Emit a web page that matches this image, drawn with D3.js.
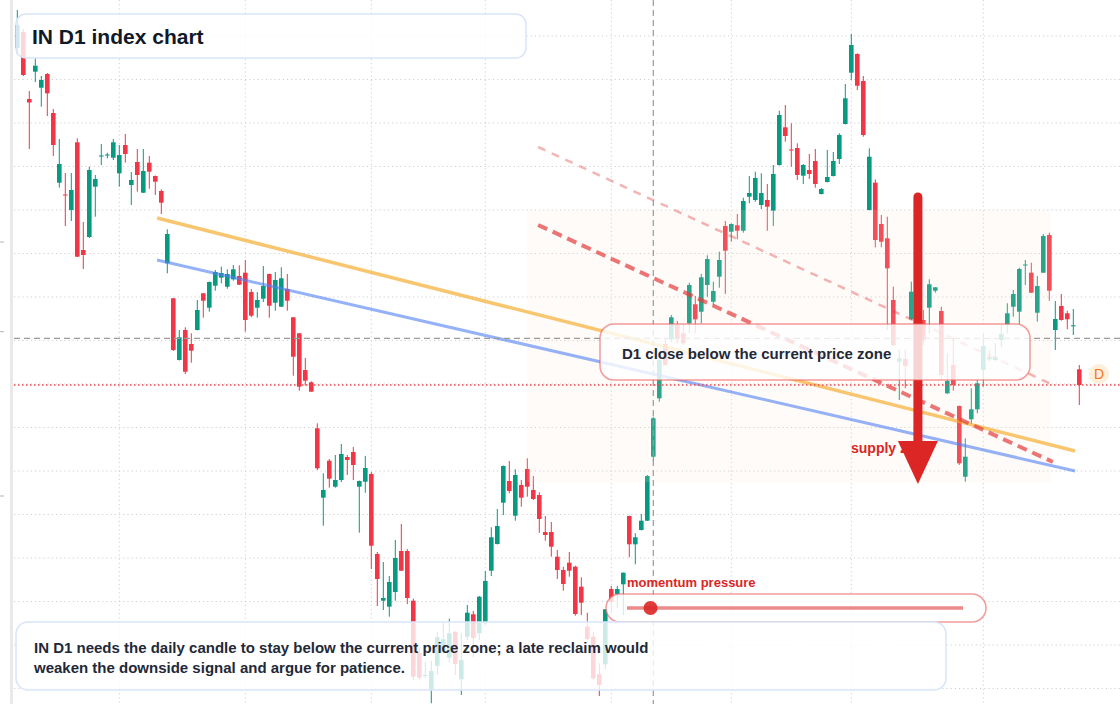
<!DOCTYPE html>
<html>
<head>
<meta charset="utf-8">
<script src="https://cdn.jsdelivr.net/npm/d3@7"></script>
<style>
  body { margin: 0; background: #fff; }
  svg { display: block; }
</style>
</head>
<body>
<script>

// daily candles, index points
const opens = [
  952, 968, 901, 928.3, 912.3, 926, 887, 817.3, 805.5, 790,
  857.7, 750, 763, 813.3, 843.5, 844.5, 842.3, 826.7, 855, 815,
  838, 807.3, 837.3, 824, 809, 736.7, 701.7, 640, 670, 656,
  670, 706.7, 692.3, 714.3, 722.3, 713.3, 720.7, 724, 727.3, 708,
  692.3, 701.3, 726, 697.3, 693.3, 711, 682.7, 666.7, 630, 617.7,
  571.7, 502.3, 539.3, 513.3, 520, 543, 548, 513.3, 518.3, 526,
  446, 399.3, 393.3, 408, 449, 449, 399.3, 347, 324, 310,
  334.3, 347.3, 342.3, 368.3, 320.7, 363.3, 385.7, 366.7, 376.7, 429.3,
  456, 497.3, 519, 484.3, 515, 531, 510, 505, 468, 468,
  443.3, 430, 437.3, 433.3, 413.3, 373.3, 363.3, 325.7, 335.7, 411,
  406, 415.7, 484, 455.7, 470, 479.3, 543.3, 601.7, 656, 660.7,
  675, 666.7, 676.7, 695.7, 688.3, 715, 698.3, 723.3, 774, 768.3,
  774.7, 769.3, 803.3, 800, 795, 800, 789.3, 835, 872.7, 850.5,
  852, 824.3, 830, 839, 806, 818, 824, 841, 876, 927.3,
  946, 919, 790, 817.3, 776, 761.7, 700, 638.3, 641, 680.7,
  708, 680, 692.3, 709.3, 689, 606.7, 635, 594, 523.3, 580.7,
  590.7, 630, 640.7, 640, 660, 675, 693.3, 688.3, 734.5, 727.3,
  687.3, 727.3, 765, 670, 694, 686.7, 674.2, 630.7
];
const highs = [
  990, 971, 909, 942, 924, 927, 891, 861, 827, 827,
  861.7, 778, 833.3, 825, 856, 847.3, 861, 855, 866, 828,
  851, 851, 844, 824.5, 810.7, 770.7, 702, 670, 672.7, 666.7,
  700, 707, 718.5, 730, 733.3, 730.7, 735, 734.7, 740, 711,
  708, 734, 726.5, 728, 732.7, 726, 683, 667, 642, 618.7,
  576.7, 526.7, 541, 545, 556, 545, 553, 519.5, 544, 528,
  448, 438, 424, 460, 476, 451, 401.3, 353.3, 338, 339,
  367.7, 377.7, 381.3, 368.5, 367, 395, 389, 404, 429, 472.7,
  491, 534.5, 539, 530.7, 520, 541.7, 524, 507.7, 484, 478,
  450, 433.3, 448, 434.3, 422.7, 387.3, 368.3, 336.7, 391, 414,
  414, 427.5, 484.5, 466.7, 486, 525, 583.3, 642, 662, 685,
  679, 676, 717.3, 704, 726, 744.7, 718.3, 748.3, 779, 776.5,
  786, 802.3, 824, 828.3, 826.7, 816, 835, 889.3, 895, 876.7,
  856.7, 836, 846, 851, 812, 850, 848, 866.7, 916, 966,
  946.7, 924, 851.7, 820.7, 785, 783.3, 713.3, 650, 650, 718.3,
  712, 690, 720.7, 713, 693.3, 646.7, 661.7, 594.5, 561.7, 611.7,
  620, 666.7, 650, 657, 675, 696.7, 710, 732.3, 740, 737.3,
  724, 766, 767.3, 699, 706, 689.3, 691, 635
];
const lows = [
  946, 924, 851, 918, 893.3, 884, 844, 812.3, 774, 779,
  743, 731, 762, 783.3, 835, 841.7, 840, 813.3, 837.3, 795,
  808.3, 807, 811.3, 805, 786, 726.7, 649, 639.5, 626, 637.3,
  669.5, 682.3, 688.3, 709.3, 716.7, 711.3, 719.3, 715, 668.3, 682.7,
  682.3, 698, 682.3, 689.3, 693, 689.3, 624.3, 609.3, 614.3, 608.3,
  530, 474.3, 512.3, 512.3, 518, 525, 520, 467.3, 507.3, 431,
  394, 390, 383.3, 399.3, 429, 396, 320, 320, 322, 296.7,
  325, 346.7, 337.3, 325, 305, 360, 343, 360, 375, 424,
  455.5, 485, 506.7, 479.3, 493.3, 503.3, 500, 467.3, 459.3, 443.3,
  421, 409.3, 423.3, 384.3, 385, 360, 320, 304, 330.7, 387,
  392, 385, 442.7, 435.7, 469.5, 479, 539.3, 598.3, 634, 658.3,
  656.7, 655, 666.7, 666.7, 676.7, 703.3, 695, 712.3, 706, 758.3,
  760.7, 767.3, 796.7, 798.3, 791, 769.3, 774, 834.5, 858.3, 833.3,
  820, 816, 821, 812.3, 805.5, 817.5, 823.5, 836, 875.5, 920,
  910, 863.3, 789.5, 752.7, 752.7, 670, 654, 600, 611.7, 680,
  670, 655, 666.7, 707.3, 620, 606.2, 609.3, 535, 518.3, 576,
  586.7, 613.3, 639, 639, 652.7, 666.7, 683.3, 676, 715, 707,
  678.3, 727, 699.3, 650, 679.3, 670.7, 665, 595
];
const closes = [
  975, 925, 897.5, 934.3, 920, 906.7, 855, 836, 804.5, 810,
  743.3, 745, 830, 821, 844.5, 845.5, 857.7, 845, 846, 820,
  825, 829, 828.3, 818.3, 797.3, 766, 650, 662.7, 628.3, 649.3,
  690, 699.3, 718, 728, 727, 726, 730.7, 715.3, 680, 684.3,
  700, 714, 694.3, 720, 721.7, 699.3, 643.3, 613.3, 619.3, 608.3,
  531.7, 510, 521.3, 520, 546, 540, 535, 519, 532, 454.3,
  421, 402, 418, 442, 429.3, 402, 323.3, 322.3, 325, 329,
  362.7, 360.7, 366.7, 336, 340, 387.3, 362, 403.3, 419, 462.7,
  474, 534, 509, 525, 502.3, 513.3, 501, 481, 465, 453.3,
  430, 416, 429.3, 386, 397.3, 361, 321.7, 315, 390.7, 398,
  411, 427.3, 455.7, 462.7, 479.3, 524, 581.7, 640, 635, 682.7,
  660.7, 656.7, 715, 680.7, 722.7, 741, 709, 740, 749.3, 776,
  769.3, 799, 807, 822, 807, 793.3, 826, 885, 864, 849.5,
  825, 835, 826, 816, 811, 823, 839, 865, 901.7, 955,
  914.3, 865, 843.3, 760, 758.3, 731.7, 655, 641.7, 634, 708.3,
  680, 660, 715.7, 712.7, 625, 619, 615, 536.7, 543.3, 590.7,
  616.7, 654, 642.7, 642.7, 666, 686.7, 706, 731, 735.5, 707.3,
  714, 764, 709.3, 681, 680, 680.7, 674.7, 615
];

const gridPrices = [964, 920.5, 877, 833.5, 790, 746.5, 703, 659.5, 616, 572.5, 529, 485.5, 442, 398.5, 355, 311.5];
const monthStarts = [17, 38, 59, 78, 99, 119, 139, 161];
const axisStubs = [758, 668.3, 504];

// drawn levels: [candle index, price]
const trendUpper = [[23.3, 782], [176.3, 549]];
const trendLower = [[23.3, 740], [176.3, 529]];
const channelTop = [[86.8, 853], [172.3, 616]];
const channelBottom = [[86.8, 775], [172.6, 538]];
const supplyZone = [[85, 790], [172.3, 518]];
const crossIndex = 106;
const crossPrice = 661.7;
const arrowPath = [[150.1, 803], [150.1, 559], [150.1, 516]];

const titleText = "IN D1 index chart";
const zoneText = "D1 close below the current price zone";
const noteLines = [
  "IN D1 needs the daily candle to stay below the current price zone; a late reclaim would",
  "weaken the downside signal and argue for patience."
];
const momentumValue = 0.07;

const canvasW = 1120;
const canvasH = 704;
const up = "#089981";
const down = "#f23645";
const fontStack = "'Liberation Sans', Arial, Helvetica, sans-serif";

let x = d3.scaleLinear().domain([0, 177]).range([17.3, 1079.3]);
let y = d3.scaleLinear().domain([1000, 296]).range([0, 704]);

let svg = d3.select("body").append("svg")
  .attr("width", canvasW)
  .attr("height", canvasH);

svg.append("rect").attr("width", canvasW).attr("height", canvasH).attr("fill", "#fff");

// left edge strip and cut-off axis stubs
svg.append("rect").attr("x", 10).attr("y", 0).attr("width", 3).attr("height", canvasH).attr("fill", "#e9e9e9");
svg.selectAll(".stub").data(axisStubs).enter().append("line")
  .attr("x1", 0).attr("x2", 4)
  .attr("y1", d => y(d)).attr("y2", d => y(d))
  .attr("stroke", "#b5b5b5").attr("stroke-width", 1);

// grid
svg.selectAll(".hgrid").data(gridPrices).enter().append("line")
  .attr("x1", 14).attr("x2", canvasW)
  .attr("y1", d => y(d)).attr("y2", d => y(d))
  .attr("stroke", "#cfcfcf").attr("stroke-width", 1).attr("stroke-dasharray", "1.2,3");
svg.selectAll(".vgrid").data(monthStarts).enter().append("line")
  .attr("x1", d => x(d)).attr("x2", d => x(d))
  .attr("y1", 0).attr("y2", canvasH)
  .attr("stroke", "#cfcfcf").attr("stroke-width", 1).attr("stroke-dasharray", "1.2,3");

// candles
let candles = opens.map((o, i) => ({ i: i, o: o, h: highs[i], l: lows[i], c: closes[i] }));

svg.selectAll(".wick").data(candles).enter().append("line")
  .attr("x1", d => x(d.i)).attr("x2", d => x(d.i))
  .attr("y1", d => y(d.h)).attr("y2", d => y(d.l))
  .attr("stroke", d => d.c >= d.o ? up : down)
  .attr("stroke-width", 1);

svg.selectAll(".body").data(candles).enter().append("rect")
  .attr("x", d => x(d.i) - 2.3)
  .attr("y", d => y(Math.max(d.o, d.c)))
  .attr("width", 4.6)
  .attr("height", d => Math.max(1, Math.abs(y(d.o) - y(d.c))))
  .attr("fill", d => d.c >= d.o ? up : down);

// supply zone wash
svg.append("rect")
  .attr("x", x(supplyZone[0][0]))
  .attr("y", y(supplyZone[0][1]))
  .attr("width", x(supplyZone[1][0]) - x(supplyZone[0][0]))
  .attr("height", y(supplyZone[1][1]) - y(supplyZone[0][1]))
  .attr("fill", "rgb(250,225,205)").attr("fill-opacity", 0.15);

let seg = d3.line().x(d => x(d[0])).y(d => y(d[1]));

svg.append("path").attr("d", seg(trendUpper)).attr("fill", "none")
  .attr("stroke", "#f6a823").attr("stroke-opacity", 0.65).attr("stroke-width", 3.5);
svg.append("path").attr("d", seg(trendLower)).attr("fill", "none")
  .attr("stroke", "#4f7ef3").attr("stroke-opacity", 0.6).attr("stroke-width", 3);
svg.append("path").attr("d", seg(channelTop)).attr("fill", "none")
  .attr("stroke", "#e23c3c").attr("stroke-opacity", 0.38).attr("stroke-width", 2.5)
  .attr("stroke-dasharray", "8,7");
svg.append("path").attr("d", seg(channelBottom)).attr("fill", "none")
  .attr("stroke", "#e23c3c").attr("stroke-opacity", 0.7).attr("stroke-width", 4)
  .attr("stroke-dasharray", "10,6");

// crosshair + last price
svg.append("line")
  .attr("x1", x(crossIndex)).attr("x2", x(crossIndex)).attr("y1", 0).attr("y2", canvasH)
  .attr("stroke", "#9a9a9a").attr("stroke-width", 1.2).attr("stroke-dasharray", "6,4");
svg.append("line")
  .attr("x1", 14).attr("x2", canvasW).attr("y1", y(crossPrice)).attr("y2", y(crossPrice))
  .attr("stroke", "#9a9a9a").attr("stroke-width", 1.2).attr("stroke-dasharray", "6,4");
let lastClose = closes[closes.length - 1];
svg.append("line")
  .attr("x1", 14).attr("x2", canvasW).attr("y1", y(lastClose)).attr("y2", y(lastClose))
  .attr("stroke", "#e8474f").attr("stroke-width", 1.3).attr("stroke-dasharray", "1.5,2.5");

svg.append("text")
  .attr("x", 851).attr("y", 453)
  .attr("font-family", fontStack).attr("font-size", "14px").attr("font-weight", "bold")
  .attr("fill", "#dc2626")
  .text("supply zone");

// down arrow
svg.append("line")
  .attr("x1", x(arrowPath[0][0])).attr("x2", x(arrowPath[1][0]))
  .attr("y1", y(arrowPath[0][1])).attr("y2", y(arrowPath[1][1]))
  .attr("stroke", "#dc2626").attr("stroke-width", 9).attr("stroke-linecap", "round");
let ax = x(arrowPath[1][0]), ay = y(arrowPath[1][1]), tip = y(arrowPath[2][1]);
svg.append("path")
  .attr("d", `M${ax - 20},${ay} L${ax + 20},${ay} L${ax},${tip} Z`)
  .attr("fill", "#dc2626");

// annotation boxes
function card(bx, by, bw, bh, r, stroke) {
  svg.append("rect")
    .attr("x", bx).attr("y", by).attr("width", bw).attr("height", bh)
    .attr("rx", r).attr("ry", r)
    .attr("fill", "#fff").attr("fill-opacity", 0.8)
    .attr("stroke", stroke).attr("stroke-width", 1.5);
}

card(16, 14, 510, 44, 10, "#d7e5fb");
svg.append("text")
  .attr("x", 32).attr("y", 43.5)
  .attr("font-family", fontStack).attr("font-size", "21px").attr("font-weight", "bold")
  .attr("fill", "#111827")
  .text(titleText);

card(600, 324, 430, 56, 14, "rgba(236,90,90,0.6)");
svg.append("text")
  .attr("x", 622).attr("y", 359)
  .attr("font-family", fontStack).attr("font-size", "15px").attr("font-weight", "bold")
  .attr("fill", "#1f2937")
  .text(zoneText);

svg.append("text")
  .attr("x", 627).attr("y", 587)
  .attr("font-family", fontStack).attr("font-size", "13px").attr("font-weight", "bold")
  .attr("fill", "#dc2626")
  .text("momentum pressure");

card(606, 594, 380, 28, 14, "rgba(236,90,90,0.6)");
let slider = d3.scaleLinear().domain([0, 1]).range([627, 963]);
svg.append("line")
  .attr("x1", slider(0)).attr("x2", slider(1)).attr("y1", 608).attr("y2", 608)
  .attr("stroke", "#e24b4b").attr("stroke-opacity", 0.65).attr("stroke-width", 3.5);
svg.append("circle")
  .attr("cx", slider(momentumValue)).attr("cy", 608).attr("r", 7)
  .attr("fill", "#dc2626").attr("fill-opacity", 0.9);

card(16, 622, 930, 68, 12, "#d7e5fb");
svg.selectAll(".note").data(noteLines).enter().append("text")
  .attr("x", 34).attr("y", (d, i) => 653 + i * 20)
  .attr("font-family", fontStack).attr("font-size", "15px").attr("font-weight", "bold")
  .attr("fill", "#1f2937")
  .text(d => d);

// session marker on the right
svg.append("circle").attr("cx", 1099).attr("cy", 374).attr("r", 10).attr("fill", "#fdefd9");
svg.append("text")
  .attr("x", 1099).attr("y", 379)
  .attr("text-anchor", "middle")
  .attr("font-family", fontStack).attr("font-size", "14px")
  .attr("fill", "#f97316")
  .text("D");

</script>
</body>
</html>
